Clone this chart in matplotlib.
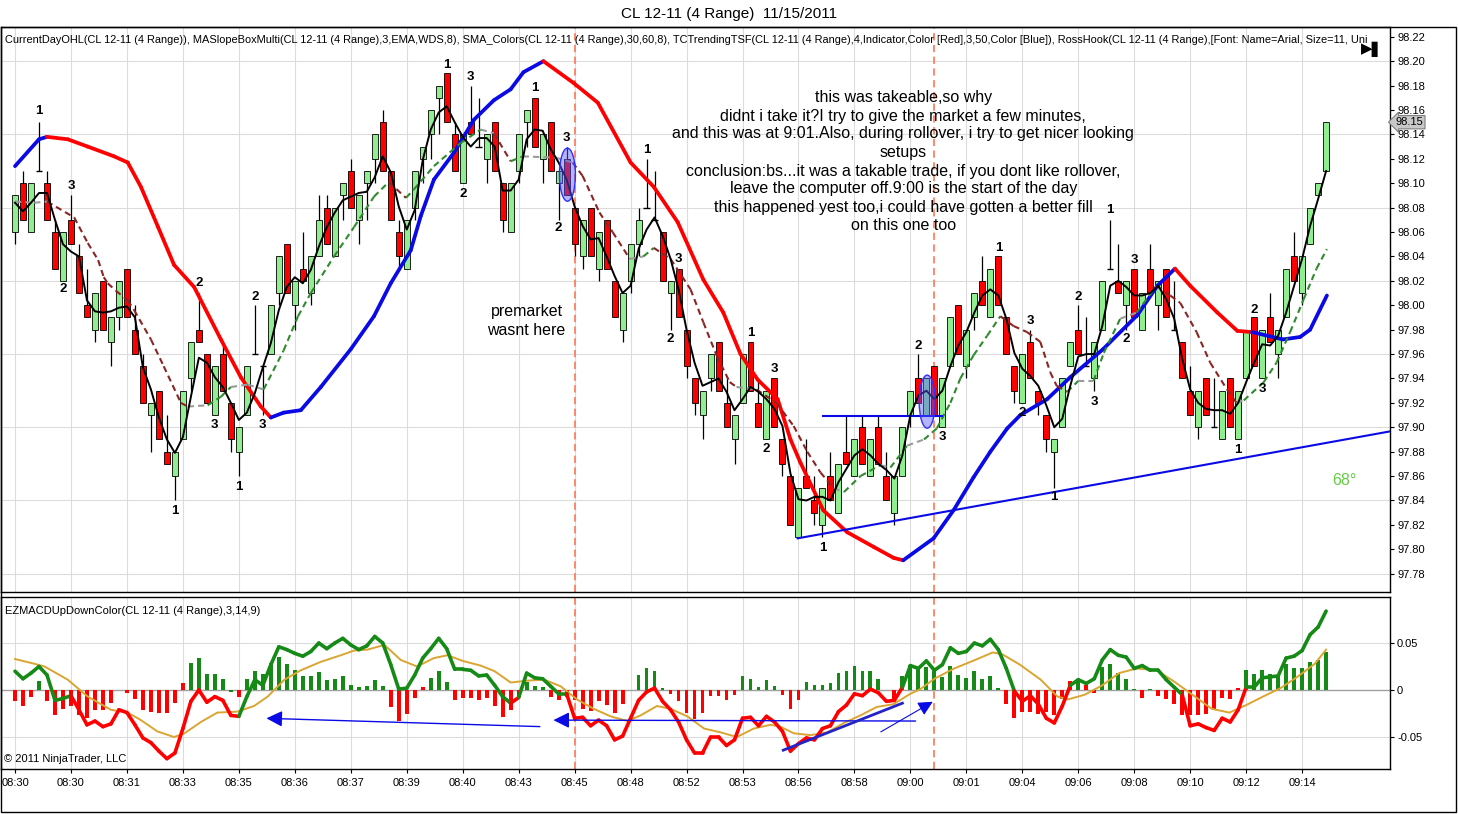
import numpy as np
import matplotlib.pyplot as plt
from matplotlib.patches import Ellipse, Rectangle
from matplotlib import transforms

plt.rcParams['font.family'] = ['Liberation Sans', 'DejaVu Sans']

# ---- price bars (CL 12-11, 4 range) ----
opens = [98.06, 98.10, 98.06, 98.11, 98.10, 98.06, 98.02, 98.07, 98.04, 98.00,
         97.98, 98.02, 97.97, 97.99, 98.03, 97.98, 97.95, 97.91, 97.93, 97.88,
         97.86, 97.89, 97.94, 97.98, 97.96, 97.91, 97.96, 97.92, 97.88, 97.91,
         97.96, 97.95, 97.96, 98.01, 98.05, 98.00, 98.03, 98.01, 98.04, 98.08,
         98.04, 98.09, 98.11, 98.07, 98.10, 98.12, 98.15, 98.11, 98.06, 98.03,
         98.08, 98.12, 98.14, 98.17, 98.19, 98.14, 98.10, 98.15, 98.13, 98.12,
         98.15, 98.10, 98.06, 98.11, 98.15, 98.17, 98.12, 98.15, 98.10, 98.12,
         98.08, 98.04, 98.08, 98.03, 98.07, 98.02, 97.98, 98.02, 98.05, 98.08,
         98.07, 98.06, 98.01, 98.03, 97.98, 97.94, 97.91, 97.94, 97.97, 97.92,
         97.89, 97.92, 97.97, 97.92, 97.89, 97.94, 97.89, 97.86, 97.81, 97.86,
         97.84, 97.82, 97.86, 97.83, 97.88, 97.86, 97.90, 97.86, 97.90, 97.86,
         97.83, 97.86, 97.91, 97.94, 97.91, 97.95, 97.90, 97.95, 98.00, 97.95,
         97.99, 98.02, 97.99, 98.04, 97.99, 97.95, 97.92, 97.97, 97.93, 97.91,
         97.88, 97.90, 97.95, 97.98, 97.95, 97.94, 97.98, 98.03, 98.02, 98.00,
         98.03, 97.98, 98.03, 98.00, 98.03, 97.98, 97.97, 97.93, 97.90, 97.94,
         97.90, 97.89, 97.94, 97.89, 97.94, 97.99, 97.94, 97.99, 97.96, 97.99,
         98.04, 98.01, 98.05, 98.09, 98.11]
highs = [98.09, 98.11, 98.10, 98.15, 98.11, 98.07, 98.06, 98.09, 98.05, 98.03,
         98.01, 98.02, 97.99, 98.02, 98.03, 98.00, 97.96, 97.92, 97.93, 97.91,
         97.88, 97.93, 97.97, 98.01, 97.96, 97.95, 97.97, 97.92, 97.90, 97.95,
         98.00, 97.95, 98.00, 98.04, 98.05, 98.02, 98.06, 98.04, 98.09, 98.09,
         98.08, 98.10, 98.12, 98.09, 98.11, 98.14, 98.16, 98.11, 98.07, 98.07,
         98.11, 98.13, 98.16, 98.18, 98.19, 98.15, 98.14, 98.18, 98.17, 98.14,
         98.15, 98.10, 98.10, 98.14, 98.16, 98.17, 98.14, 98.15, 98.11, 98.13,
         98.08, 98.07, 98.08, 98.06, 98.07, 98.02, 98.01, 98.05, 98.08, 98.12,
         98.11, 98.06, 98.02, 98.03, 97.98, 97.94, 97.93, 97.96, 97.97, 97.94,
         97.91, 97.96, 97.97, 97.94, 97.93, 97.94, 97.89, 97.86, 97.85, 97.89,
         97.86, 97.85, 97.88, 97.87, 97.91, 97.89, 97.91, 97.89, 97.91, 97.88,
         97.86, 97.90, 97.93, 97.96, 97.94, 97.95, 97.94, 97.99, 98.00, 97.98,
         98.01, 98.04, 98.03, 98.04, 97.99, 97.95, 97.96, 97.98, 97.93, 97.91,
         97.89, 97.94, 97.97, 98.00, 97.99, 97.97, 98.02, 98.07, 98.05, 98.02,
         98.03, 98.01, 98.05, 98.02, 98.03, 98.02, 97.97, 97.95, 97.93, 97.94,
         97.94, 97.93, 97.94, 97.93, 97.98, 97.99, 97.98, 98.01, 97.98, 98.03,
         98.06, 98.04, 98.08, 98.10, 98.15]
lows = [98.05, 98.07, 98.06, 98.11, 98.07, 98.03, 98.02, 98.05, 98.01, 97.99,
        97.97, 97.98, 97.95, 97.98, 97.99, 97.96, 97.92, 97.88, 97.89, 97.87,
        97.84, 97.89, 97.93, 97.97, 97.92, 97.91, 97.93, 97.88, 97.86, 97.91,
        97.96, 97.91, 97.96, 98.00, 98.01, 97.98, 98.02, 98.00, 98.04, 98.05,
        98.04, 98.07, 98.08, 98.05, 98.07, 98.10, 98.11, 98.07, 98.03, 98.03,
        98.07, 98.10, 98.12, 98.14, 98.15, 98.11, 98.10, 98.14, 98.13, 98.10,
        98.11, 98.06, 98.06, 98.10, 98.13, 98.13, 98.10, 98.11, 98.07, 98.09,
        98.04, 98.03, 98.04, 98.02, 98.03, 97.99, 97.97, 98.01, 98.04, 98.08,
        98.07, 98.02, 97.98, 97.99, 97.94, 97.91, 97.89, 97.93, 97.93, 97.90,
        97.87, 97.92, 97.93, 97.90, 97.89, 97.90, 97.86, 97.82, 97.81, 97.85,
        97.82, 97.81, 97.84, 97.83, 97.87, 97.86, 97.87, 97.86, 97.87, 97.84,
        97.82, 97.86, 97.90, 97.92, 97.91, 97.91, 97.90, 97.95, 97.96, 97.94,
        97.98, 98.00, 97.99, 98.00, 97.96, 97.92, 97.92, 97.94, 97.91, 97.88,
        97.85, 97.90, 97.95, 97.96, 97.95, 97.93, 97.98, 98.03, 98.01, 97.98,
        97.99, 97.98, 98.01, 97.98, 97.99, 97.98, 97.94, 97.91, 97.89, 97.91,
        97.90, 97.89, 97.90, 97.89, 97.94, 97.95, 97.94, 97.97, 97.94, 97.99,
        98.02, 98.00, 98.05, 98.09, 98.11]
closes = [98.09, 98.07, 98.10, 98.11, 98.07, 98.03, 98.06, 98.05, 98.01, 97.99,
          98.01, 97.98, 97.99, 98.02, 97.99, 97.96, 97.92, 97.92, 97.89, 97.87,
          97.88, 97.93, 97.97, 97.97, 97.92, 97.95, 97.93, 97.89, 97.90, 97.95,
          97.96, 97.95, 98.00, 98.04, 98.01, 98.02, 98.02, 98.04, 98.07, 98.05,
          98.08, 98.10, 98.08, 98.09, 98.11, 98.14, 98.11, 98.07, 98.04, 98.07,
          98.11, 98.13, 98.16, 98.18, 98.15, 98.11, 98.14, 98.14, 98.13, 98.14,
          98.11, 98.07, 98.10, 98.14, 98.16, 98.13, 98.14, 98.11, 98.11, 98.09,
          98.05, 98.07, 98.04, 98.06, 98.03, 97.99, 98.01, 98.05, 98.07, 98.08,
          98.07, 98.02, 98.02, 97.99, 97.95, 97.92, 97.93, 97.96, 97.93, 97.90,
          97.91, 97.96, 97.93, 97.90, 97.93, 97.90, 97.87, 97.82, 97.85, 97.85,
          97.83, 97.85, 97.84, 97.87, 97.87, 97.89, 97.87, 97.89, 97.87, 97.84,
          97.86, 97.90, 97.93, 97.92, 97.94, 97.91, 97.94, 97.99, 97.96, 97.98,
          98.01, 98.00, 98.03, 98.00, 97.96, 97.93, 97.96, 97.94, 97.92, 97.89,
          97.89, 97.94, 97.97, 97.96, 97.95, 97.97, 98.02, 98.03, 98.01, 98.02,
          97.99, 98.01, 98.01, 98.02, 97.99, 97.98, 97.94, 97.91, 97.93, 97.91,
          97.90, 97.93, 97.90, 97.93, 97.98, 97.95, 97.98, 97.97, 97.98, 98.03,
          98.02, 98.04, 98.08, 98.10, 98.15]

# fast EMA (black line), one reading per bar
fast_ma = [98.084, 98.077, 98.084, 98.092, 98.092, 98.070, 98.050, 98.044, 98.040, 98.004,
           97.995, 97.994, 97.995, 97.998, 97.999, 97.990, 97.949, 97.931, 97.908, 97.890,
           97.879, 97.892, 97.925, 97.957, 97.953, 97.941, 97.933, 97.920, 97.906, 97.912,
           97.928, 97.949, 97.969, 97.996, 98.015, 98.023, 98.018, 98.029, 98.048, 98.064,
           98.076, 98.086, 98.089, 98.092, 98.093, 98.105, 98.122, 98.109, 98.081, 98.062,
           98.078, 98.119, 98.144, 98.158, 98.163, 98.150, 98.138, 98.130, 98.137, 98.137,
           98.130, 98.094, 98.094, 98.103, 98.136, 98.144, 98.143, 98.128, 98.117, 98.103,
           98.081, 98.065, 98.054, 98.055, 98.040, 98.024, 98.010, 98.016, 98.046, 98.062,
           98.072, 98.057, 98.038, 98.013, 97.980, 97.953, 97.934, 97.937, 97.940, 97.929,
           97.914, 97.923, 97.933, 97.929, 97.923, 97.915, 97.901, 97.862, 97.841, 97.840,
           97.843, 97.843, 97.840, 97.855, 97.866, 97.877, 97.882, 97.877, 97.870, 97.865,
           97.858, 97.877, 97.910, 97.926, 97.930, 97.923, 97.930, 97.950, 97.967, 97.978,
           97.994, 98.008, 98.013, 98.008, 97.989, 97.961, 97.948, 97.942, 97.934, 97.918,
           97.900, 97.907, 97.934, 97.958, 97.960, 97.960, 97.983, 98.016, 98.020, 98.015,
           98.008, 98.008, 98.010, 98.016, 98.005, 97.989, 97.956, 97.931, 97.920, 97.915,
           97.914, 97.914, 97.911, 97.920, 97.937, 97.953, 97.968, 97.967, 97.975, 97.994,
           98.016, 98.038, 98.065, 98.087, 98.110]

# slope-coloured dashed average: (bar position, price)
mid_x = [0, 2.4, 4, 7.4, 9.1, 10.4, 11.1, 11.6, 12.6, 14.1, 14.9, 17, 18.6, 20.75, 21.6,
         24.1, 25.75, 27, 29.1, 31.1, 33.6, 35.4, 37, 39.9, 42.4, 44.9, 46.75, 48.9, 49.9,
         52.4, 55.75, 58.25, 59.9, 62, 63.5, 67.6, 69.75, 71, 73.1, 74.75, 76.9, 78.6, 79.9,
         82, 84.5, 86.1, 87.75, 89.4, 90.25, 92.75, 95.25, 97.4, 99.1, 100.75, 102.4, 103.7,
         105.75, 108.25, 109.5, 111.6, 113.7, 115.3, 117, 118.25, 119.9, 121.6, 123.25,
         124.9, 126.6, 128.25, 129.5, 130.3, 131.6, 133, 134.9, 136.2, 138.25, 140.3, 142.8,
         144.5, 145.75, 147.8, 149.5, 151.6, 152.8, 153.7, 156.2, 157.8, 159.5, 161.2,
         162.8, 164.1]
mid_y = [98.085, 98.084, 98.085, 98.072, 98.051, 98.037, 98.023, 98.018, 98.012, 98.004,
         97.996, 97.972, 97.950, 97.920, 97.917, 97.918, 97.925, 97.933, 97.935, 97.931,
         97.963, 97.991, 98.010, 98.040, 98.064, 98.089, 98.101, 98.088, 98.095, 98.114,
         98.133, 98.144, 98.141, 98.118, 98.122, 98.121, 98.117, 98.106, 98.076, 98.060,
         98.038, 98.040, 98.047, 98.038, 98.013, 97.986, 97.959, 97.937, 97.933, 97.931,
         97.920, 97.901, 97.880, 97.863, 97.850, 97.847, 97.860, 97.869, 97.867, 97.885,
         97.890, 97.899, 97.920, 97.940, 97.959, 97.975, 97.991, 97.983, 97.978, 97.970,
         97.945, 97.934, 97.929, 97.938, 97.938, 97.961, 97.989, 97.994, 98.016, 98.008,
         98.002, 97.978, 97.953, 97.931, 97.920, 97.922, 97.937, 97.953, 97.978, 98.005,
         98.030, 98.046]

# slow average (thick red/blue): (bar position, price)
slow_x = [0, 3, 4, 6.6, 9.1, 12.4, 14.1, 15.75, 17.9, 19.9, 22.4, 25.75, 28.25, 30.75, 32,
          33.6, 35.75, 38.25, 42, 44.9, 47, 49.5, 50.75, 52.4, 54.9, 57.4, 59.9, 62, 63.6,
          66.1, 69.9, 72.9, 77, 79.9, 82.9, 86.1, 88.6, 90.75, 92.9, 95.4, 97, 98.25, 101.1,
          104.1, 107.4, 109.9, 111.1, 114.9, 117.4, 119.9, 122, 124.1, 125.75, 129.1, 132,
          136.1, 140.4, 142.9, 145.1, 147, 150.4, 152.9, 154.75, 158.6, 160.75, 162, 164.1]
slow_y = [98.114, 98.136, 98.138, 98.136, 98.130, 98.122, 98.117, 98.097, 98.064, 98.033,
          98.015, 97.972, 97.941, 97.917, 97.908, 97.912, 97.914, 97.933, 97.964, 97.991,
          98.018, 98.045, 98.073, 98.103, 98.125, 98.152, 98.168, 98.177, 98.191, 98.200,
          98.182, 98.166, 98.117, 98.097, 98.068, 98.021, 97.994, 97.960, 97.939, 97.923,
          97.890, 97.871, 97.832, 97.814, 97.802, 97.793, 97.791, 97.809, 97.832, 97.859,
          97.880, 97.899, 97.910, 97.923, 97.941, 97.964, 97.992, 98.016, 98.030, 98.016,
          97.994, 97.979, 97.978, 97.972, 97.974, 97.980, 98.008]
slow_red = [(4, 32), (66.1, 111.1), (145.1, 154.75)]

# swing point labels
swing_x = [3, 7, 6, 23, 30, 20, 25, 31, 28, 54, 57, 56, 65, 69, 68, 79, 83, 82, 92, 95, 94,
           101, 113, 116, 123, 127, 126, 130, 133, 135, 137, 140, 139, 155, 156, 153]
swing_y = [98.159, 98.098, 98.013, 98.018, 98.007, 97.831, 97.902, 97.902, 97.851, 98.197,
           98.187, 98.091, 98.178, 98.137, 98.063, 98.127, 98.038, 97.972, 97.977, 97.948,
           97.882, 97.801, 97.967, 97.892, 98.047, 97.987, 97.912, 97.843, 98.007, 97.921,
           98.078, 98.037, 97.972, 97.996, 97.931, 97.881]
swing_txt = ['1', '3', '2', '2', '2', '1', '3', '3', '1', '1', '3', '2', '1', '3', '2', '1',
             '3', '2', '1', '3', '2', '1', '2', '3', '1', '3', '2', '1', '2', '3', '1', '3',
             '2', '2', '3', '1']

note_lines = ["this was takeable,so why",
              "didnt i take it?I try to give the market a few minutes,",
              "and this was at 9:01.Also, during rollover, i try to get nicer looking",
              "setups",
              "conclusion:bs...it was a takable trade, if you dont like rollover,",
              "leave the computer off.9:00 is the start of the day",
              "this happened yest too,i could have gotten a better fill",
              "on this one too"]
note_y = [98.170, 98.1545, 98.1406, 98.125, 98.1094, 98.0955, 98.0799, 98.065]

# ---- MACD panel ----
macd = [0.020, 0.012, 0.018, 0.025, 0.016, -0.011, -0.009, -0.006, -0.021, -0.037,
        -0.033, -0.039, -0.036, -0.021, -0.024, -0.037, -0.051, -0.056, -0.065, -0.073,
        -0.067, -0.041, -0.012, 0.000, -0.013, -0.007, -0.011, -0.027, -0.028, -0.007,
        0.011, 0.005, 0.027, 0.046, 0.043, 0.039, 0.036, 0.041, 0.050, 0.044,
        0.050, 0.055, 0.048, 0.043, 0.047, 0.057, 0.050, 0.027, 0.001, 0.002,
        0.016, 0.034, 0.044, 0.055, 0.044, 0.022, 0.022, 0.021, 0.015, 0.016,
        0.005, -0.007, -0.014, -0.008, 0.018, 0.013, 0.012, 0.004, -0.004, -0.004,
        -0.030, -0.029, -0.038, -0.032, -0.038, -0.053, -0.049, -0.030, -0.011, -0.002,
        0.002, -0.012, -0.021, -0.034, -0.053, -0.067, -0.067, -0.050, -0.050, -0.059,
        -0.053, -0.030, -0.029, -0.038, -0.028, -0.034, -0.044, -0.065, -0.057, -0.051,
        -0.053, -0.041, -0.038, -0.023, -0.016, -0.004, -0.006, 0.001, -0.003, -0.012,
        -0.011, 0.003, 0.026, 0.023, 0.031, 0.021, 0.027, 0.045, 0.039, 0.041,
        0.050, 0.047, 0.054, 0.043, 0.023, -0.001, -0.012, -0.006, -0.015, -0.030,
        -0.035, -0.017, 0.005, 0.011, 0.007, 0.012, 0.032, 0.043, 0.037, 0.035,
        0.023, 0.026, 0.021, 0.021, 0.011, 0.003, -0.005, -0.038, -0.036, -0.040,
        -0.043, -0.030, -0.034, -0.021, 0.003, 0.003, 0.013, 0.014, 0.015, 0.034,
        0.036, 0.042, 0.059, 0.067, 0.084]
macd_red = [(7, 28), (62, 63), (69, 111), (125, 132), (146, 154)]

hist = [-0.012, -0.017, -0.007, 0.010, -0.012, -0.027, -0.020, -0.017, -0.027, -0.030,
        -0.021, -0.021, -0.014, 0.000, -0.003, -0.010, -0.021, -0.023, -0.024, -0.024,
        -0.014, 0.008, 0.029, 0.034, 0.017, 0.017, 0.012, -0.002, -0.007, 0.012,
        0.020, 0.017, 0.029, 0.035, 0.028, 0.021, 0.015, 0.015, 0.019, 0.011,
        0.012, 0.015, 0.005, 0.003, 0.004, 0.011, 0.004, -0.018, -0.033, -0.025,
        -0.008, 0.003, 0.013, 0.020, 0.009, -0.011, -0.009, -0.008, -0.011, -0.009,
        -0.017, -0.029, -0.021, -0.007, 0.009, 0.004, 0.003, -0.007, -0.011, -0.007,
        -0.011, -0.020, -0.022, -0.012, -0.016, -0.024, -0.015, 0.000, 0.016, 0.023,
        0.020, 0.002, -0.004, -0.012, -0.024, -0.031, -0.024, -0.006, -0.006, -0.011,
        -0.005, 0.015, 0.012, 0.003, 0.011, 0.004, -0.005, -0.020, -0.011, 0.009,
        0.005, 0.005, 0.008, 0.018, 0.020, 0.026, 0.020, 0.020, 0.012, 0.000,
        -0.010, 0.015, 0.027, 0.023, 0.025, 0.020, 0.014, 0.026, 0.016, 0.013,
        0.020, 0.012, 0.015, 0.002, -0.015, -0.030, -0.023, -0.023, -0.026, -0.023,
        -0.027, -0.010, 0.010, 0.011, 0.005, -0.003, 0.025, 0.028, 0.018, 0.012,
        0.001, -0.009, 0.001, -0.006, -0.010, -0.015, -0.027, -0.027, -0.027, -0.025,
        -0.021, -0.008, -0.010, 0.002, 0.021, 0.017, 0.021, 0.017, 0.016, 0.028,
        0.023, 0.023, 0.030, 0.032, 0.041]
hist_red_up = [21, 51, 132, 134, 153]
hist_green_down = [27]

sig_x = [0, 2.4, 3.7, 6.6, 9.1, 12, 14.1, 15.75, 17.8, 19.9, 21.2, 23.25, 25.3, 27.8, 29.9,
         31.6, 33.7, 35.75, 38.25, 40.75, 42.4, 44.1, 46.2, 48.25, 50.3, 52.4, 54.1, 56,
         58.25, 60, 62, 64.1, 66.2, 68.25, 70.3, 72.4, 74.5, 76.6, 78.25, 80.3, 82, 84.1,
         86.2, 88.25, 90.3, 92.4, 94.5, 95.75, 97.4, 99.5, 101.6, 103.7, 105.75, 107.8,
         109.9, 112, 113.25, 115, 117.5, 120.1, 122.3, 123.5, 125.7, 128.3, 130.4, 131.7,
         133.8, 136, 138.1, 140.3, 142.8, 145, 147.6, 149.7, 151.9, 154, 156.1, 158.3,
         160.4, 162.6, 164]
sig_y = [0.033, 0.028, 0.025, 0.011, -0.007, -0.021, -0.024, -0.032, -0.044, -0.050,
         -0.046, -0.034, -0.024, -0.023, -0.017, -0.007, 0.011, 0.021, 0.030, 0.037,
         0.042, 0.043, 0.048, 0.032, 0.025, 0.034, 0.037, 0.031, 0.026, 0.020,
         0.008, 0.010, 0.011, 0.004, -0.010, -0.020, -0.028, -0.033, -0.027, -0.017,
         -0.020, -0.028, -0.041, -0.045, -0.050, -0.041, -0.037, -0.039, -0.046, -0.048,
         -0.045, -0.035, -0.027, -0.018, -0.015, -0.004, 0.001, 0.012, 0.023, 0.032,
         0.040, 0.038, 0.027, 0.011, -0.007, -0.010, -0.005, 0.005, 0.018, 0.023,
         0.021, 0.009, -0.007, -0.020, -0.024, -0.016, -0.007, 0.002, 0.014, 0.028,
         0.043]

time_labels = ['08:30', '08:30', '08:31', '08:33', '08:35', '08:36', '08:37', '08:39',
               '08:40', '08:43', '08:45', '08:48', '08:52', '08:53', '08:56', '08:58',
               '09:00', '09:01', '09:04', '09:06', '09:08', '09:10', '09:12', '09:14']

GREEN = '#168A16'
RED = '#FF0000'
BLUE = '#0A0AE6'


def in_ranges(v, ranges):
    for a, b in ranges:
        if a <= v < b:
            return True
    return False


fig = plt.figure(figsize=(14.58, 8.14), dpi=100)
ax1 = fig.add_axes([0.0007, 0.2727, 0.9527, 0.6941])
ax2 = fig.add_axes([0.0007, 0.0553, 0.9527, 0.2113])

n = len(closes)
idx = np.arange(n)
o = np.array(opens); c = np.array(closes)
h = np.array(highs); l = np.array(lows)

for ax in (ax1, ax2):
    ax.set_xlim(-1.75, 172)
    ax.set_xticks(np.arange(0, n, 7))
    ax.grid(axis='x', color='#DCDCDC', lw=0.8)
    ax.set_axisbelow(True)
    ax.tick_params(axis='x', length=3, labelsize=8)
    ax.yaxis.tick_right()
    ax.tick_params(axis='y', length=3, labelsize=8, pad=2)
    for s in ax.spines.values():
        s.set_linewidth(1.0)
    ax.axvline(70, color='#FF8060', lw=1.3, ls=(0, (4, 2.5)), zorder=1)
    ax.axvline(115, color='#FF8060', lw=1.3, ls=(0, (4, 2.5)), zorder=1)

# ---- upper panel ----
ax1.set_ylim(97.765, 98.228)
ax1.set_yticks(np.round(np.arange(97.78, 98.221, 0.02), 2))
ax1.set_yticklabels(['%.2f' % v for v in np.arange(97.78, 98.221, 0.02)])
ax1.tick_params(axis='x', labelbottom=False, length=0)
for g in np.arange(97.78, 98.23, 0.06):
    ax1.axhline(g, color='#DCDCDC', lw=0.8, zorder=0)

ax1.vlines(idx, l, h, color='black', lw=0.9, zorder=2)
up = c > o
dn = c < o
ax1.bar(idx[up], (c - o)[up], bottom=o[up], width=0.75, color='#90EE90',
        edgecolor='black', lw=0.6, zorder=3)
ax1.bar(idx[dn], (o - c)[dn], bottom=c[dn], width=0.75, color=RED,
        edgecolor='black', lw=0.6, zorder=3)
doji = c == o
ax1.hlines(c[doji], idx[doji] - 0.4, idx[doji] + 0.4, color='black', lw=1.0, zorder=3)

for k in range(len(slow_x) - 1):
    col = RED if in_ranges(slow_x[k], slow_red) else BLUE
    ax1.plot(slow_x[k:k + 2], slow_y[k:k + 2], color=col, lw=2.7,
             solid_capstyle='round', zorder=4)

for k in range(len(mid_x) - 1):
    slope = (mid_y[k + 1] - mid_y[k]) / (mid_x[k + 1] - mid_x[k])
    if slope > 0.0025:
        col = '#2E8B2E'
    elif slope < -0.0025:
        col = '#8B2525'
    else:
        col = '#9A9A9A'
    ax1.plot(mid_x[k:k + 2], mid_y[k:k + 2], color=col, lw=1.5,
             ls=(0, (3, 2)), zorder=4)

ax1.plot(idx, fast_ma, color='black', lw=1.4, zorder=5)

for sx, sy, st in zip(swing_x, swing_y, swing_txt):
    ax1.text(sx, sy, st, ha='center', va='center', fontsize=9.5,
             fontweight='bold', zorder=6)

# drawings
ax1.plot([97.9, 174], [97.809, 97.899], color=BLUE, lw=1.5, zorder=4)
ax1.plot([101.1, 116], [97.909, 97.909], color=BLUE, lw=1.5, zorder=4)
for ex, ey in [(69.1, 98.107), (114.1, 97.921)]:
    ax1.add_patch(Ellipse((ex, ey), 2.0, 0.0435, fc=(0.35, 0.35, 1.0, 0.45),
                          ec='#3030FF', lw=1, zorder=6))

for line, ly in zip(note_lines, note_y):
    ax1.text(111.1, ly, line, ha='center', va='center', fontsize=11.5, zorder=7)
ax1.text(64.0, 97.995, 'premarket', ha='center', va='center', fontsize=11.5, zorder=7)
ax1.text(64.0, 97.979, 'wasnt here', ha='center', va='center', fontsize=11.5, zorder=7)
ax1.text(166.25, 97.856, '68°', ha='center', va='center', fontsize=11.5,
         color='#66CC44', zorder=7)

ax1.text(0.003, 0.985,
         'CurrentDayOHL(CL 12-11 (4 Range)), MASlopeBoxMulti(CL 12-11 (4 Range),3,EMA,WDS,8), '
         'SMA_Colors(CL 12-11 (4 Range),30,60,8), TCTrendingTSF(CL 12-11 (4 Range),4,Indicator,'
         'Color [Red],3,50,Color [Blue]), RossHook(CL 12-11 (4 Range),[Font: Name=Arial, Size=11, Uni',
         transform=ax1.transAxes, ha='left', va='top', fontsize=7.95, zorder=7)
ax1.text(0.9875, 0.961, '▶▌', transform=ax1.transAxes, ha='center', va='center',
         fontsize=11, family=['DejaVu Sans'], zorder=7)

trans = transforms.blended_transform_factory(ax1.transAxes, ax1.transData)
ax1.text(1.004, 98.15, '98.15', transform=trans, ha='left', va='center', fontsize=8,
         bbox=dict(boxstyle='larrow,pad=0.15', fc='#C8C8C8', ec='#808080', lw=0.8), zorder=8)

# ---- lower panel ----
ax2.set_ylim(-0.084, 0.099)
ax2.set_yticks([0.05, 0, -0.05])
ax2.set_yticklabels(['0.05', '0', '-0.05'])
ax2.set_xticklabels(time_labels)
ax2.axhline(0.05, color='#DCDCDC', lw=0.8, zorder=0)
ax2.axhline(-0.05, color='#DCDCDC', lw=0.8, zorder=0)
ax2.axhline(0, color='#A0A0A0', lw=1.0, zorder=1)

hv = np.array(hist)
hcol = [GREEN if v > 0 else RED for v in hv]
for k in hist_red_up:
    hcol[k] = RED
for k in hist_green_down:
    hcol[k] = GREEN
ax2.bar(idx, hv, width=0.48, color=hcol, zorder=2)

ax2.plot(sig_x, sig_y, color='#DAA530', lw=1.4, zorder=3)
for k in range(n - 1):
    col = RED if in_ranges(k, macd_red) else GREEN
    ax2.plot([k, k + 1], macd[k:k + 2], color=col, lw=2.6,
             solid_capstyle='round', zorder=4)

ax2.text(0.003, 0.95, 'EZMACDUpDownColor(CL 12-11 (4 Range),3,14,9)',
         transform=ax2.transAxes, ha='left', va='top', fontsize=8)
ax2.text(0.002, 0.03, '© 2011 NinjaTrader, LLC', transform=ax2.transAxes,
         ha='left', va='bottom', fontsize=8)

arrow = dict(arrowstyle='-|>', color=BLUE, lw=1.0, mutation_scale=24)
ax2.annotate('', xy=(31.1, -0.030), xytext=(66, -0.039), arrowprops=arrow, zorder=5)
ax2.annotate('', xy=(67, -0.032), xytext=(113, -0.033), arrowprops=arrow, zorder=5)
ax2.annotate('', xy=(115.1, -0.011), xytext=(108, -0.046),
             arrowprops=dict(arrowstyle='-|>', color=BLUE, lw=0.8, mutation_scale=22), zorder=5)
ax2.plot([96.1, 111], [-0.064, -0.014], color='#2323C8', lw=2.0, zorder=5)

fig.text(0.5, 0.992, 'CL 12-11 (4 Range)  11/15/2011', ha='center', va='top', fontsize=11)
fig.add_artist(Rectangle((0.0007, 0.0025), 0.998, 0.964, transform=fig.transFigure,
                         fill=False, ec='black', lw=1.0))

fig.savefig('out.png', dpi=100)
